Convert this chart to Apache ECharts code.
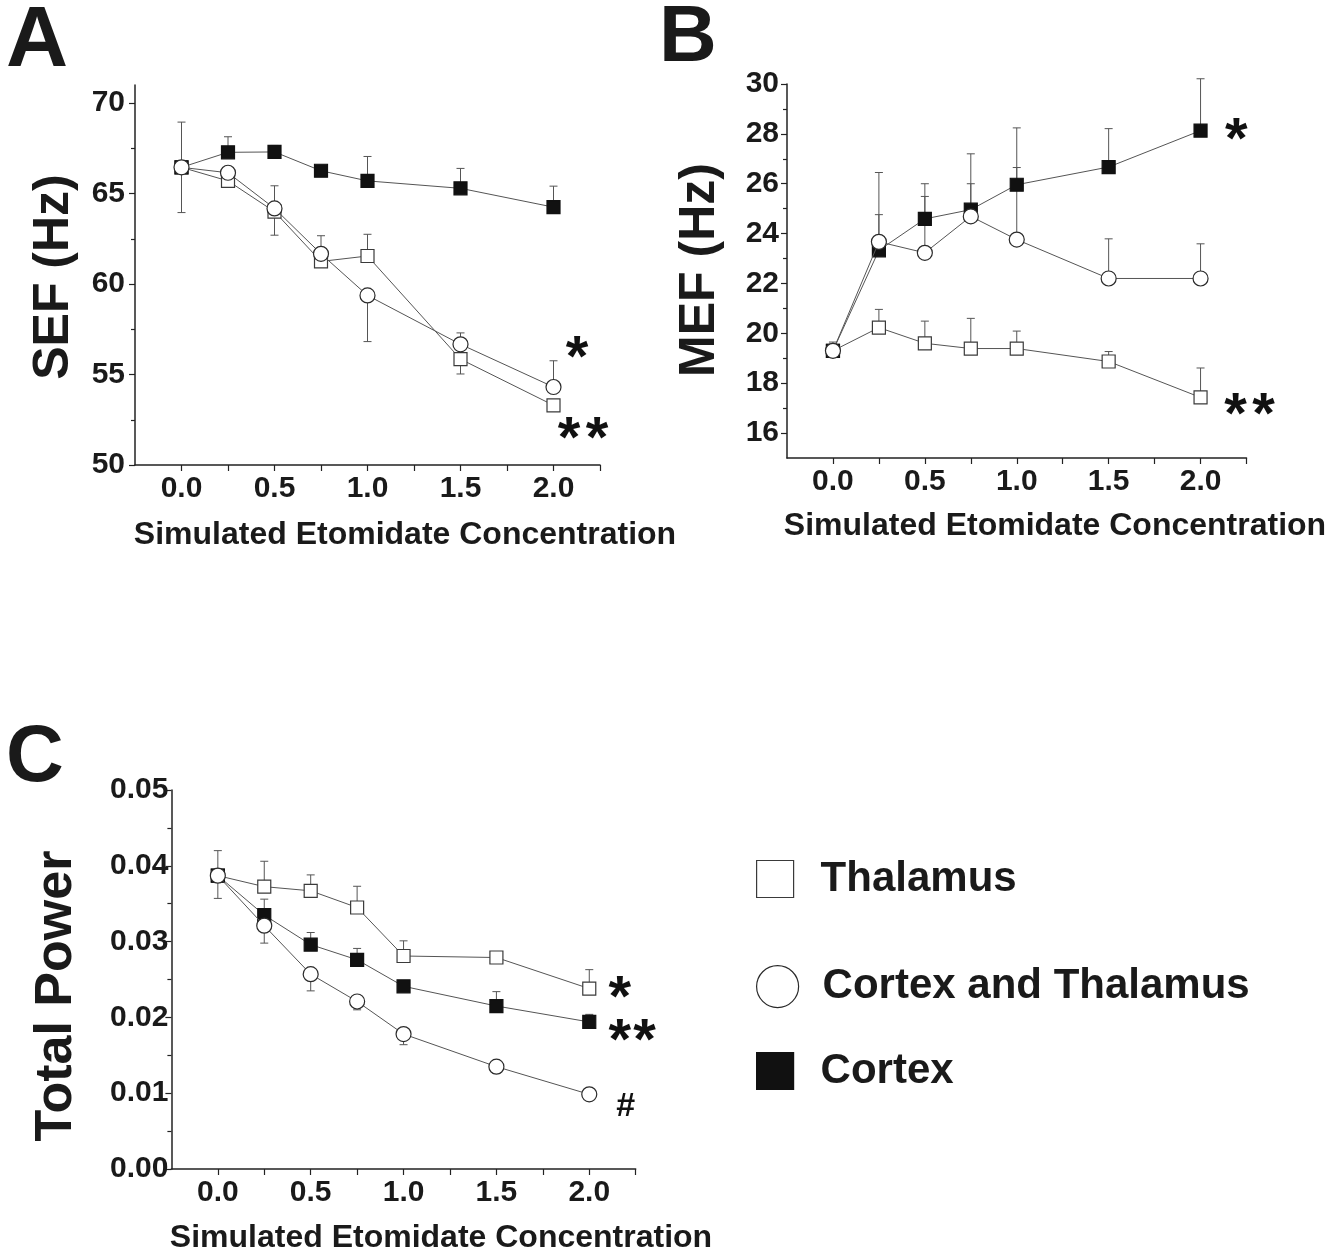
<!DOCTYPE html>
<html><head><meta charset="utf-8">
<script src="https://cdn.jsdelivr.net/npm/echarts@6/dist/echarts.min.js"></script>
<style>html,body{margin:0;padding:0;background:#fff}#c{width:1340px;height:1256px}</style>
</head><body><div id="c"></div>
<script>
const F = "'Liberation Sans', Arial, Helvetica, sans-serif";

// shared x
const conc = [0, 0.25, 0.5, 0.75, 1.0, 1.5, 2.0];
const xTicks = [0, 0.25, 0.5, 0.75, 1.0, 1.25, 1.5, 1.75, 2.0, 2.25];
const xLabels = [0, 0.5, 1.0, 1.5, 2.0];

// Panel A: SEF (Hz)
const sefYTicks = [50, 55, 60, 65, 70];
const sefYMinor = [52.5, 57.5, 62.5, 67.5];
const sefThalamus = [66.45, 65.70, 64.00, 61.25, 61.55, 55.85, 53.30];
const sefThalamusUp = [2.5, 0, 0, 0, 1.2, 0, 0];
const sefThalamusDown = [2.5, 0.35, 1.3, 0.15, 0, 0.82, 0.25];
const sefBoth = [66.45, 66.15, 64.18, 61.67, 59.37, 56.67, 54.31];
const sefBothUp = [0, 0, 1.25, 1.0, 0, 0.63, 1.45];
const sefBothDown = [0, 0, 0, 0, 2.55, 0, 0];
const sefCortex = [66.45, 67.28, 67.30, 66.26, 65.70, 65.29, 64.25];
const sefCortexUp = [0, 0.86, 0.36, 0, 1.35, 1.10, 1.16];
const sefCortexDown = [0, 0, 0, 0, 0, 0, 0];
const sefNoteText = ['*', '*', '*'];
const sefNoteX = [2.126, 2.083, 2.234];
const sefNoteY = [56.52, 52.04, 52.04];

// Panel B: MEF (Hz)
const mefYTicks = [16, 18, 20, 22, 24, 26, 28, 30];
const mefYMinor = [17, 19, 21, 23, 25, 27, 29];
const mefThalamus = [19.30, 20.23, 19.60, 19.39, 19.39, 18.87, 17.43];
const mefThalamusUp = [0.35, 0.73, 0.89, 1.21, 0.70, 0.40, 1.18];
const mefThalamusDown = [0, 0, 0, 0, 0, 0, 0];
const mefBoth = [19.30, 23.67, 23.23, 24.69, 23.76, 22.20, 22.20];
const mefBothUp = [0, 2.78, 2.26, 1.31, 2.89, 1.59, 1.39];
const mefBothDown = [0, 0, 0, 0, 0, 0, 0];
const mefCortex = [19.30, 23.33, 24.59, 24.96, 25.96, 26.67, 28.13];
const mefCortexUp = [0, 1.43, 1.41, 2.24, 2.28, 1.54, 2.08];
const mefCortexDown = [0, 0, 0, 0, 0, 0, 0];
const mefNoteText = ['*', '*', '*'];
const mefNoteX = [2.195, 2.19, 2.343];
const mefNoteY = [28.2, 17.17, 17.17];

// Panel C: Total Power
const powYTicks = [0, 0.01, 0.02, 0.03, 0.04, 0.05];
const powYMinor = [0.005, 0.015, 0.025, 0.035, 0.045];
const powThalamus = [0.0387, 0.03725, 0.0367, 0.0345, 0.0281, 0.0279, 0.0238];
const powThalamusUp = [0.0033, 0.00335, 0.0021, 0.0028, 0.0020, 0.0006, 0.0025];
const powThalamusDown = [0.0030, 0, 0, 0, 0, 0, 0];
const powBoth = [0.0387, 0.0321, 0.0257, 0.0221, 0.0178, 0.0135, 0.00985];
const powBothUp = [0, 0, 0, 0, 0, 0, 0];
const powBothDown = [0, 0.0023, 0.0022, 0.0011, 0.0014, 0.0009, 0.0007];
const powCortex = [0.0387, 0.0335, 0.0296, 0.0276, 0.0241, 0.0215, 0.0194];
const powCortexUp = [0, 0.0021, 0.0016, 0.0015, 0, 0.0019, 0.0010];
const powCortexDown = [0, 0, 0, 0, 0, 0, 0];
const powNoteText = ['*', '*', '*', '#'];
const powNoteX = [2.164, 2.164, 2.298, 2.196];
const powNoteY = [0.02401, 0.01834, 0.01834, 0.00818];

const names = ['Thalamus', 'Cortex and Thalamus', 'Cortex'];
const INK = '#1a1a1a';

const grids = [
  {left: 135, top: 85, width: 465, height: 380},
  {left: 787, top: 84, width: 459.5, height: 374},
  {left: 171.4, top: 790, width: 464.3, height: 379}
];
const gridOpt = grids.concat(grids).map(g => Object.assign({containLabel: false}, g));

function xMain(g) {
  return {type: 'value', gridIndex: g, min: -0.25, max: 2.25, interval: 0.25,
    axisLine: {show: true, onZero: false, lineStyle: {color: '#222', width: 1.5}},
    axisTick: {show: true, length: 6, customValues: xTicks, lineStyle: {color: '#222', width: 1.2}},
    axisLabel: {customValues: xLabels, formatter: v => Number(v).toFixed(1), fontSize: 30, fontWeight: 'bold',
      fontFamily: F, color: INK, margin: 9},
    splitLine: {show: false}};
}
function xHidden(g) {
  return {type: 'value', gridIndex: g, min: -0.25, max: 2.25, show: false,
    axisLine: {show: false, onZero: false}};
}
function yMain(g, min, max, interval, ticks, fmt, margin) {
  return {type: 'value', gridIndex: g, min, max, interval, position: 'left',
    axisLine: {show: true, onZero: false, lineStyle: {color: '#222', width: 1.5}},
    axisTick: {show: true, length: 6, customValues: ticks, lineStyle: {color: '#222', width: 1.2}},
    axisLabel: {customValues: ticks, formatter: fmt, fontSize: 30, fontWeight: 'bold', fontFamily: F,
      color: INK, margin},
    splitLine: {show: false}};
}
function yMinor(g, min, max, interval, ticks) {
  return {type: 'value', gridIndex: g, min, max, interval, position: 'left',
    axisLine: {show: false, onZero: false},
    axisTick: {show: true, length: 4, customValues: ticks, lineStyle: {color: '#222', width: 1.2}},
    axisLabel: {show: false}, splitLine: {show: false}};
}

const styles = [
  {symbol: 'rect', size: 13, fill: '#fff', border: '#3a3a3a', z: 3},
  {symbol: 'circle', size: 15, fill: '#fff', border: '#2a2a2a', z: 5},
  {symbol: 'rect', size: 13, fill: '#111', border: '#111', z: 4}
];

function lineSeries(k, gi, vals) {
  const s = styles[k];
  return {type: 'line', name: names[k], xAxisIndex: gi, yAxisIndex: gi,
    data: conc.map((x, i) => [x, vals[i]]),
    symbol: s.symbol, symbolSize: s.size, showAllSymbol: true,
    lineStyle: {color: '#555', width: 1},
    itemStyle: {color: s.fill, borderColor: s.border, borderWidth: 1.2},
    z: s.z, emphasis: {disabled: true}, silent: true, clip: false};
}

function errData(vals, up, down) {
  const out = [];
  conc.forEach((x, i) => {
    if (up[i] > 0) out.push([x, vals[i], vals[i] + up[i], 1]);
    if (down[i] > 0) out.push([x, vals[i] - down[i], vals[i], 0]);
  });
  return out;
}
function renderErr(params, api) {
  const x = api.value(0), lo = api.value(1), hi = api.value(2), capTop = api.value(3);
  const a = api.coord([x, lo]), b = api.coord([x, hi]);
  const cy = capTop ? b[1] : a[1];
  const w = 4;
  return {type: 'group', children: [
    {type: 'line', shape: {x1: a[0], y1: a[1], x2: b[0], y2: b[1]}, style: {stroke: '#555', lineWidth: 1}},
    {type: 'line', shape: {x1: a[0] - w, y1: cy, x2: a[0] + w, y2: cy}, style: {stroke: '#555', lineWidth: 1}}
  ]};
}
function errSeries(gi, sets) {
  let d = [];
  sets.forEach(s => { d = d.concat(errData(s[0], s[1], s[2])); });
  return {type: 'custom', xAxisIndex: gi, yAxisIndex: gi, renderItem: renderErr, data: d,
    encode: {x: 0, y: [1, 2]}, z: 2, silent: true, clip: false};
}
function noteSeries(gi, texts, xs, ys) {
  return {type: 'scatter', xAxisIndex: gi, yAxisIndex: gi, symbol: 'circle', symbolSize: 1,
    itemStyle: {color: 'rgba(0,0,0,0)'}, silent: true, clip: false, z: 10,
    data: texts.map((t, i) => {
      const hash = t === '#';
      return {value: [xs[i], ys[i]], name: t,
        label: {show: true, position: 'inside', formatter: t, fontSize: hash ? 34 : 58,
          fontWeight: 'bold', fontFamily: F, color: '#111', textBorderWidth: 0, textShadowBlur: 0,
          opacity: 1, offset: [0, hash ? 0 : 13]}};
    })};
}

const series = [
  errSeries(0, [[sefThalamus, sefThalamusUp, sefThalamusDown], [sefBoth, sefBothUp, sefBothDown], [sefCortex, sefCortexUp, sefCortexDown]]),
  lineSeries(0, 0, sefThalamus), lineSeries(2, 0, sefCortex), lineSeries(1, 0, sefBoth),
  noteSeries(0, sefNoteText, sefNoteX, sefNoteY),
  errSeries(1, [[mefThalamus, mefThalamusUp, mefThalamusDown], [mefBoth, mefBothUp, mefBothDown], [mefCortex, mefCortexUp, mefCortexDown]]),
  lineSeries(0, 1, mefThalamus), lineSeries(2, 1, mefCortex), lineSeries(1, 1, mefBoth),
  noteSeries(1, mefNoteText, mefNoteX, mefNoteY),
  errSeries(2, [[powThalamus, powThalamusUp, powThalamusDown], [powBoth, powBothUp, powBothDown], [powCortex, powCortexUp, powCortexDown]]),
  lineSeries(0, 2, powThalamus), lineSeries(2, 2, powCortex), lineSeries(1, 2, powBoth),
  noteSeries(2, powNoteText, powNoteX, powNoteY)
];

const legTxt = {fontSize: 42, fontWeight: 'bold', fontFamily: F, color: INK};
function leg(k, top, size, pad) {
  const s = styles[k];
  return {data: [{name: names[k], icon: s.symbol === 'rect' ? 'rect' : 'circle',
      itemStyle: {color: s.fill, borderColor: s.border, borderWidth: 1.2}}],
    left: 756, top, orient: 'vertical', itemWidth: size, itemHeight: size, padding: 0,
    selectedMode: false, textStyle: Object.assign({padding: [0, 0, 0, pad]}, legTxt)};
}

function gtext(text, x, y, size, rot) {
  return {type: 'text', x, y, rotation: rot || 0, silent: true,
    style: {text, fontSize: size, fontWeight: 'bold', fontFamily: F, fill: INK, align: 'center', verticalAlign: 'middle'}};
}

const option = {
  animation: false,
  backgroundColor: '#fff',
  grid: gridOpt,
  xAxis: [xMain(0), xMain(1), xMain(2), xHidden(3), xHidden(4), xHidden(5)],
  yAxis: [
    yMain(0, 50, 71, 5, sefYTicks, v => String(v), 10),
    yMain(1, 15, 30, 1, mefYTicks, v => String(v), 8),
    yMain(2, 0, 0.05, 0.01, powYTicks, v => Number(v).toFixed(2), 3),
    yMinor(3, 50, 71, 2.5, sefYMinor),
    yMinor(4, 15, 30, 1, mefYMinor),
    yMinor(5, 0, 0.05, 0.005, powYMinor)
  ],
  legend: [leg(0, 858, 37, 22), leg(1, 965, 42, 19), leg(2, 1050, 37, 22)],
  series,
  graphic: [
    gtext('A', 37, 42, 86), gtext('B', 688, 39, 80), gtext('C', 35, 759, 80),
    gtext('SEF (Hz)', 54, 277, 50, Math.PI / 2),
    gtext('MEF (Hz)', 700, 270, 50, Math.PI / 2),
    gtext('Total Power', 57, 996, 52, Math.PI / 2),
    gtext('Simulated Etomidate Concentration', 405, 535, 32),
    gtext('Simulated Etomidate Concentration', 1055, 526, 32),
    gtext('Simulated Etomidate Concentration', 441, 1238, 32)
  ]
};

const chart = echarts.init(document.getElementById('c'), null, {renderer: 'canvas'});
chart.setOption(option);
</script>
</body></html>
